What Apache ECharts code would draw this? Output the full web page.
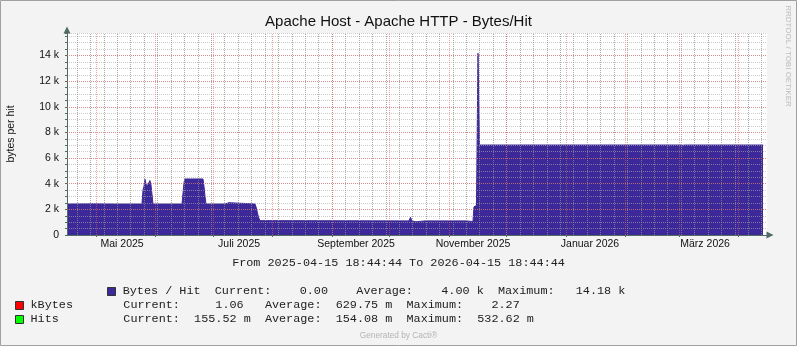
<!DOCTYPE html>
<html><head><meta charset="utf-8">
<script src="https://cdn.jsdelivr.net/npm/echarts@6/dist/echarts.min.js"></script>
<style>html,body{margin:0;padding:0;background:#f3f3f3;}#c{width:797px;height:346px;}</style>
</head><body><div id="c"></div>
<script>
// ---- data ----
const rangeStart = '2025-04-15 18:44:44';
const rangeEnd = '2026-04-15 18:44:44';
const times = [
  '2025-04-15 18:44:44','2025-04-27 18:00','2025-05-10 12:00','2025-05-24 21:00',
  '2025-05-25 10:00','2025-05-25 22:00','2025-05-26 11:00','2025-05-26 23:00','2025-05-27 12:00',
  '2025-05-28 06:00','2025-05-29 01:00','2025-05-29 14:00','2025-05-30 02:00','2025-05-30 15:00',
  '2025-06-14 18:00','2025-06-15 06:00','2025-06-15 19:00','2025-06-16 07:00','2025-06-19 04:00',
  '2025-06-19 10:00','2025-06-19 16:00','2025-06-25 17:00','2025-06-26 05:00','2025-06-26 18:00',
  '2025-06-27 06:00','2025-07-07 04:00','2025-07-07 16:00','2025-07-09 06:00','2025-07-09 18:00',
  '2025-07-22 19:00','2025-07-23 08:00','2025-07-23 20:00','2025-07-24 09:00','2025-07-24 21:00',
  '2025-07-25 10:00','2025-08-30 22:00','2025-10-11 03:00','2025-10-11 21:00','2025-10-12 16:00',
  '2025-10-14 18:00','2025-10-19 11:00','2025-10-20 12:00','2025-10-23 15:00','2025-10-24 16:00',
  '2025-10-30 10:00','2025-10-31 11:00','2025-11-05 16:00','2025-11-06 17:00','2025-11-09 20:00',
  '2025-11-10 21:00','2025-11-13 11:00','2025-11-14 00:00','2025-11-15 07:00','2025-11-16 02:00',
  '2025-11-16 21:00',
  '2025-11-21 01:00','2025-11-21 07:00','2025-11-21 13:00',
  '2025-12-21 07:00','2025-12-21 13:00','2025-12-21 19:00',
  '2026-01-04 21:00','2026-01-05 03:00','2026-01-05 09:00',
  '2026-01-18 17:00','2026-01-18 23:00','2026-01-19 05:00',
  '2026-02-01 06:00','2026-02-01 12:00','2026-02-01 18:00',
  '2026-02-13 12:00','2026-02-13 18:00','2026-02-14 00:00',
  '2026-02-23 23:00','2026-02-24 05:00','2026-02-24 11:00',
  '2026-03-02 17:00','2026-03-02 23:00','2026-03-03 05:00',
  '2026-03-16 07:00','2026-03-16 13:00','2026-03-16 19:00',
  '2026-03-30 02:00','2026-03-30 08:00','2026-03-30 14:00',
  '2026-04-09 13:00','2026-04-09 19:00','2026-04-10 01:00',
  '2026-04-13 17:00'
];
const bytesPerHit = [
  2420,2430,2420,2420,
  3500,3800,4350,4000,3780,
  3800,4250,3900,3200,2420,
  2420,3200,4100,4370,4370,
  4320,4370,4370,3800,3000,
  2420,2420,2500,2520,2430,
  2420,2200,1900,1550,1300,
  1120,1110,1100,1380,1100,
  1030,1100,1030,1100,1030,
  1100,1040,1100,1030,1100,
  1040,1050,2200,2300,14180,
  7020,
  7020,6930,7020,
  7020,6930,7020,
  7020,6930,7020,
  7020,6930,7020,
  7020,6930,7020,
  7020,6930,7020,
  7020,6930,7020,
  7020,6760,7020,
  7020,6930,7020,
  7020,6930,7020,
  7020,6930,7020,
  7020
];
const yMax = 15760;
const yMajorLines = [2000,4000,6000,8000,10000,12000,14000];
const monthStarts = ['2025-05-01','2025-06-01','2025-07-01','2025-08-01','2025-09-01','2025-10-01',
  '2025-11-01','2025-12-01','2026-01-01','2026-02-01','2026-03-01','2026-04-01'];
const monthLabelDates = ['2025-05-14 12:00','2025-07-14 12:00','2025-09-13 12:00','2025-11-13 12:00',
  '2026-01-13 12:00','2026-03-14 12:00'];
const monthNames = ['Januar','Februar','März','April','Mai','Juni','Juli','August','September','Oktober','November','Dezember'];
const firstMonday = '2025-04-21';

const legendLines = {
  range: 'From 2025-04-15 18:44:44 To 2026-04-15 18:44:44',
  bph: 'Bytes / Hit  Current:    0.00    Average:    4.00 k  Maximum:   14.18 k',
  kbName: 'kBytes',
  kb: 'Current:     1.06   Average:  629.75 m  Maximum:    2.27',
  hitsName: 'Hits',
  hits: 'Current:  155.52 m  Average:  154.08 m  Maximum:  532.62 m'
};

// ---- build ----
const P = s => echarts.time.parse(s).getTime();
const startMs = P(rangeStart), endMs = P(rangeEnd);
const seriesData = times.map((t, i) => [P(t), bytesPerHit[i]]);
const weekLines = [];
for (let t = P(firstMonday); t < endMs; t += 7 * 86400000) weekLines.push(t);
const monthMs = monthStarts.map(P);
const axisColor = '#506a64';
const mono = '11.8px "Liberation Mono", monospace';
const grayGrid = 'rgba(170,170,170,0.6)';
const grayGridV = 'rgba(140,140,140,0.75)';
const redGrid = 'rgba(230,90,90,0.55)';

const chart = echarts.init(document.getElementById('c'), null, {renderer: 'canvas'});
chart.setOption({
  animation: false,
  backgroundColor: '#f3f3f3',
  title: {
    text: 'Apache Host - Apache HTTP - Bytes/Hit', left: 'center', top: 14, padding: 0,
    textStyle: {fontFamily: 'Liberation Sans', fontSize: 15, fontWeight: 'normal', color: '#111'}
  },
  grid: {left: 67, right: 30, top: 33, bottom: 111, containLabel: false, outerBoundsMode: 'none',
    show: true, backgroundColor: '#ffffff', borderWidth: 0, z: -2},
  xAxis: {
    type: 'value', min: startMs, max: endMs,
    axisLine: {show: true, onZero: false, lineStyle: {color: axisColor, width: 1}, symbol: ['none', 'triangle'], symbolSize: [7, 7], symbolOffset: [0, 3]},
    axisTick: {show: true, customValues: monthMs, length: 2, lineStyle: {color: axisColor}},
    axisLabel: {
      customValues: monthLabelDates.map(P), margin: 4, color: '#111',
      fontFamily: 'Liberation Sans', fontSize: 10.5, hideOverlap: false,
      formatter: v => { const d = new Date(v); return monthNames[d.getMonth()] + ' ' + d.getFullYear(); }
    },
    splitLine: {show: false}
  },
  yAxis: {
    type: 'value', min: 0, max: yMax, interval: 500,
    name: 'bytes per hit', nameLocation: 'middle', nameRotate: 90, nameGap: 50,
    nameTextStyle: {fontFamily: 'Liberation Sans', fontSize: 10.5, color: '#111'},
    axisLine: {show: true, lineStyle: {color: axisColor, width: 1}, symbol: ['none', 'triangle'], symbolSize: [7, 7], symbolOffset: [0, 3]},
    axisTick: {show: true, length: 2, lineStyle: {color: axisColor}},
    axisLabel: {
      margin: 8, color: '#111', fontFamily: 'Liberation Sans', fontSize: 10.5,
      formatter: v => (v === 0 ? '0' : (v % 2000 === 0 ? (v / 1000) + ' k' : ''))
    },
    splitLine: {show: true, lineStyle: {color: grayGrid, width: 1, type: [1, 1]}}
  },
  series: [{
    type: 'line', z: -1, data: seriesData, showSymbol: false, symbol: 'none',
    lineStyle: {width: 1, color: '#3d2899'}, itemStyle: {color: '#3d2899'},
    areaStyle: {color: '#3d2899', opacity: 1},
    silent: true,
    markLine: {
      silent: true, symbol: 'none', animation: false, label: {show: false}, z: 5,
      emphasis: {disabled: true},
      data: [
        ...weekLines.map(t => ({xAxis: t, lineStyle: {color: grayGridV, width: 1, type: [1, 1]}})),
        ...monthMs.map(t => ({xAxis: t, lineStyle: {color: redGrid, width: 1, type: [1, 1]}})),
        ...yMajorLines.map(v => ({yAxis: v, lineStyle: {color: redGrid, width: 1, type: [1, 1]}}))
      ]
    }
  }],
  graphic: [
    {type: 'rect', silent: true, z: 100, shape: {x: 0.5, y: 0.5, width: 796, height: 345},
      style: {fill: 'none', stroke: '#a0a0a0', lineWidth: 1}},
    {type: 'text', silent: true, x: 788, y: 56, rotation: -Math.PI / 2,
      style: {text: 'RRDTOOL / TOBI OETIKER', align: 'center', verticalAlign: 'middle', font: '8px "Liberation Sans"', fill: '#bcbcbc'}},
    {type: 'text', silent: true, style: {x: 398.5, y: 263, text: legendLines.range, align: 'center', verticalAlign: 'middle', font: mono, fill: '#222'}},
    {type: 'rect', silent: true, shape: {x: 107.5, y: 287.5, width: 8, height: 8}, style: {fill: '#3d2899', stroke: '#333', lineWidth: 1}},
    {type: 'text', silent: true, style: {x: 122.7, y: 291, text: legendLines.bph, align: 'left', verticalAlign: 'middle', font: mono, fill: '#222'}},
    {type: 'rect', silent: true, shape: {x: 15.5, y: 301.5, width: 8, height: 8}, style: {fill: '#ff0000', stroke: '#333', lineWidth: 1}},
    {type: 'text', silent: true, style: {x: 30.5, y: 304.5, text: legendLines.kbName, align: 'left', verticalAlign: 'middle', font: mono, fill: '#222'}},
    {type: 'text', silent: true, style: {x: 123.3, y: 304.5, text: legendLines.kb, align: 'left', verticalAlign: 'middle', font: mono, fill: '#222'}},
    {type: 'rect', silent: true, shape: {x: 15.5, y: 315.5, width: 8, height: 8}, style: {fill: '#00ff00', stroke: '#333', lineWidth: 1}},
    {type: 'text', silent: true, style: {x: 30.5, y: 318.7, text: legendLines.hitsName, align: 'left', verticalAlign: 'middle', font: mono, fill: '#222'}},
    {type: 'text', silent: true, style: {x: 123.3, y: 318.7, text: legendLines.hits, align: 'left', verticalAlign: 'middle', font: mono, fill: '#222'}},
    {type: 'text', silent: true, style: {x: 398.5, y: 335.5, text: 'Generated by Cacti®', align: 'center', verticalAlign: 'middle', font: '8.3px "Liberation Sans"', fill: '#b4b4b4'}}
  ]
});
</script></body></html>
